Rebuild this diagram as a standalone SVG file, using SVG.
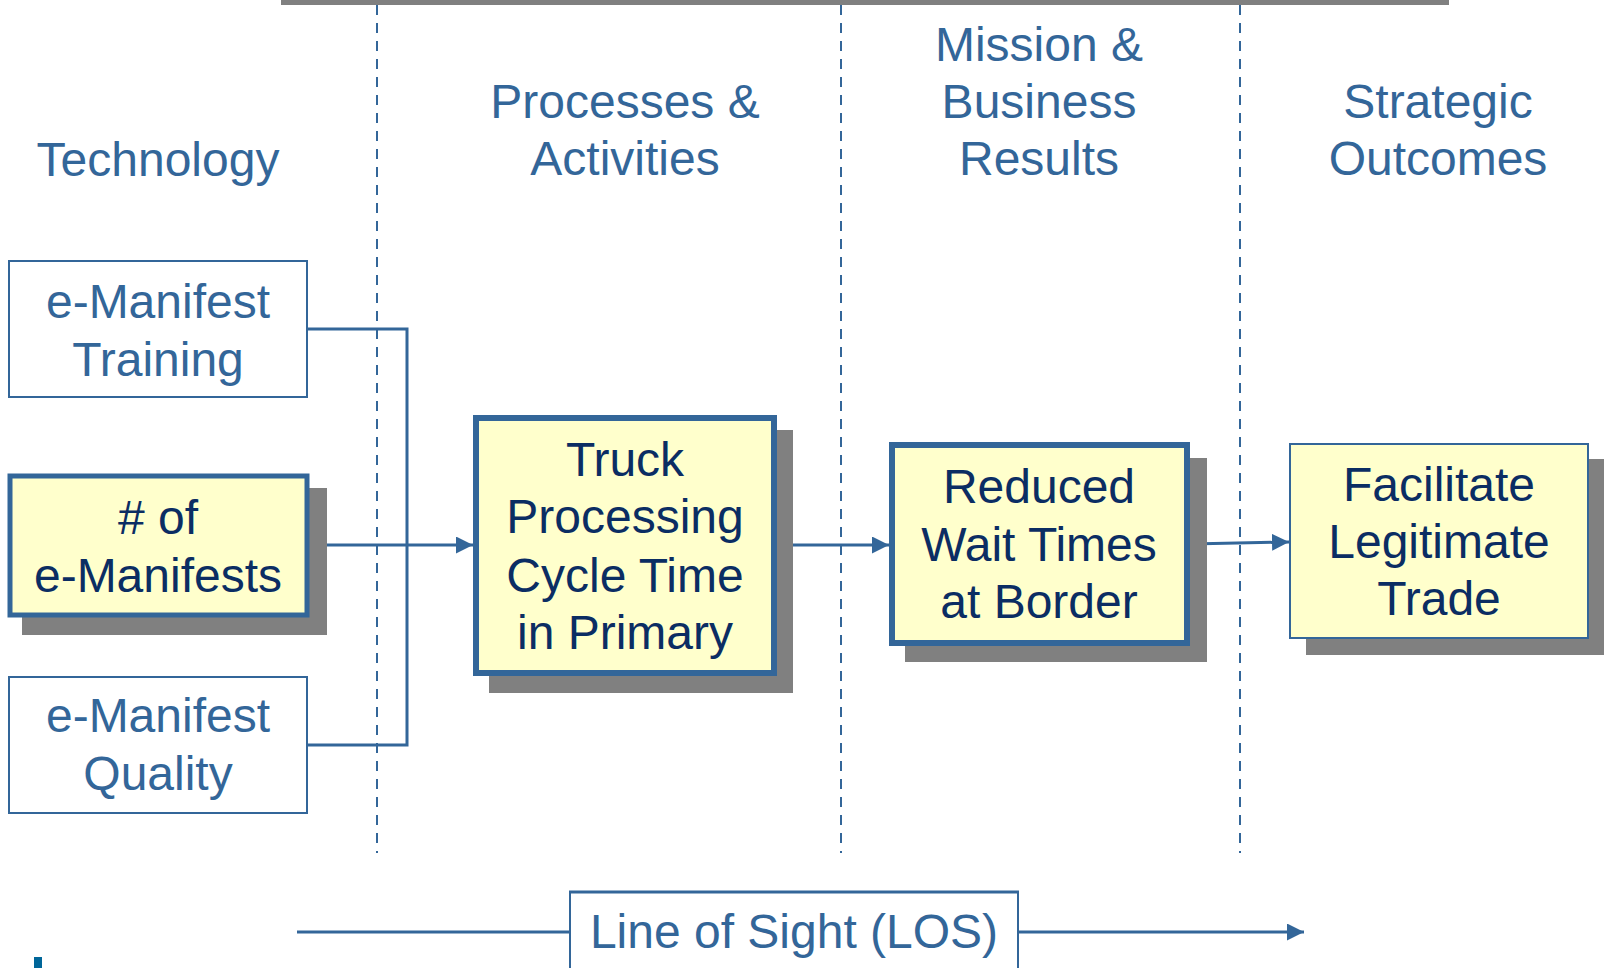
<svg xmlns="http://www.w3.org/2000/svg" width="1604" height="968" viewBox="0 0 1604 968">
  <style>
    text { font-family: "Liberation Sans", Arial, sans-serif; font-size: 48px; text-anchor: middle; }
    .head { fill: #336699; }
    .plain { fill: #336699; }
    .dark { fill: #0B2D63; }
    .shadow { fill: #808080; }
    .thin { fill: #FFFFFF; stroke: #336699; stroke-width: 2; }
    .thick { fill: #FFFFCC; stroke: #336699; stroke-width: 6; }
    .soft { fill: #FFFFCC; stroke: #336699; stroke-width: 2; }
    .divider { stroke: #336699; stroke-width: 2; stroke-dasharray: 10 8; fill: none; }
    .link { stroke: #336699; stroke-width: 3; fill: none; }
  </style>
  <defs>
    <marker id="arrow" markerUnits="userSpaceOnUse" markerWidth="17" markerHeight="17" refX="17" refY="8.5" orient="auto">
      <path d="M0,0 L17,8.5 L0,17 Z" fill="#336699"/>
    </marker>
  </defs>

  <rect width="1604" height="968" fill="#FFFFFF"/>

  <!-- top rule -->
  <rect x="281" y="0" width="1168" height="5" fill="#808080"/>

  <!-- column dividers -->
  <g id="dividers">
    <line class="divider" x1="377" y1="5" x2="377" y2="853"/>
    <line class="divider" x1="841" y1="5" x2="841" y2="853"/>
    <line class="divider" x1="1240" y1="5" x2="1240" y2="853"/>
  </g>

  <!-- column headings -->
  <g id="headings">
    <text class="head" x="158" y="176">Technology</text>
    <text class="head" x="625" y="118">Processes &amp;</text>
    <text class="head" x="625" y="175">Activities</text>
    <text class="head" x="1039" y="61">Mission &amp;</text>
    <text class="head" x="1039" y="118">Business</text>
    <text class="head" x="1039" y="175">Results</text>
    <text class="head" x="1438" y="118">Strategic</text>
    <text class="head" x="1438" y="175">Outcomes</text>
  </g>

  <!-- connectors -->
  <g id="connectors">
    <polyline class="link" points="308,329 407,329 407,745 308,745"/>
    <line class="link" x1="310" y1="545" x2="473" y2="545" marker-end="url(#arrow)"/>
    <line class="link" x1="777" y1="545" x2="889" y2="545" marker-end="url(#arrow)"/>
    <line class="link" x1="1190" y1="544" x2="1289" y2="542" marker-end="url(#arrow)"/>
  </g>

  <g id="node-training">
    <rect class="thin" x="9" y="261" width="298" height="136"/>
    <text class="plain" x="158" y="318">e-Manifest</text>
    <text class="plain" x="158" y="376">Training</text>
  </g>

  <g id="node-count">
    <rect class="shadow" x="22" y="488" width="305" height="147"/>
    <rect class="thick" x="10" y="476" width="297" height="139" style="stroke-width:5"/>
    <text class="dark" x="158" y="534"># of</text>
    <text class="dark" x="158" y="592">e-Manifests</text>
  </g>

  <g id="node-quality">
    <rect class="thin" x="9" y="677" width="298" height="136"/>
    <text class="plain" x="158" y="732">e-Manifest</text>
    <text class="plain" x="158" y="790">Quality</text>
  </g>

  <g id="node-truck">
    <rect class="shadow" x="489" y="430" width="304" height="263"/>
    <rect class="thick" x="476" y="418" width="298" height="255"/>
    <text class="dark" x="625" y="476">Truck</text>
    <text class="dark" x="625" y="533">Processing</text>
    <text class="dark" x="625" y="592">Cycle Time</text>
    <text class="dark" x="625" y="649">in Primary</text>
  </g>

  <g id="node-wait">
    <rect class="shadow" x="905" y="458" width="302" height="204"/>
    <rect class="thick" x="892" y="445" width="295" height="198"/>
    <text class="dark" x="1039" y="503">Reduced</text>
    <text class="dark" x="1039" y="561">Wait Times</text>
    <text class="dark" x="1039" y="618">at Border</text>
  </g>

  <g id="node-trade">
    <rect class="shadow" x="1306" y="459" width="310" height="196"/>
    <rect class="soft" x="1290" y="444" width="298" height="194"/>
    <text class="dark" x="1439" y="501">Facilitate</text>
    <text class="dark" x="1439" y="558">Legitimate</text>
    <text class="dark" x="1439" y="615">Trade</text>
  </g>

  <!-- line of sight banner -->
  <g id="los">
    <line class="link" x1="297" y1="932" x2="570" y2="932"/>
    <line class="link" x1="1018" y1="932" x2="1304" y2="932" marker-end="url(#arrow)"/>
    <rect class="thin" x="570" y="892" width="448" height="90"/>
    <line x1="569" y1="892" x2="1019" y2="892" stroke="#336699" stroke-width="3"/>
    <text class="plain" x="794" y="948">Line of Sight (LOS)</text>
  </g>

  <rect x="34" y="957" width="8" height="11" fill="#006699"/>
</svg>
